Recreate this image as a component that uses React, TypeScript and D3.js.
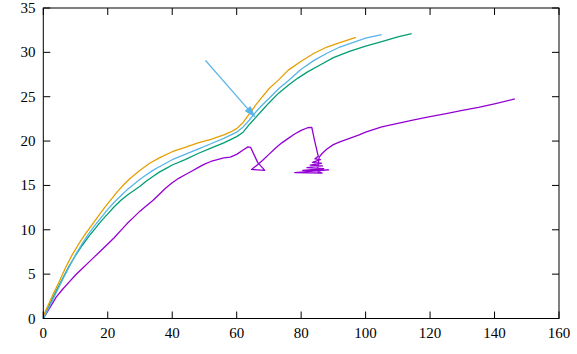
import React, { useEffect, useRef } from "react";
import * as d3 from "d3";

// series: [x, y]
const purple: [number, number][] = [
  [0, 0], [1, 0.6], [2, 1.2], [4, 2.4], [6, 3.3], [8, 4.1], [10, 4.9], [12, 5.6], [14, 6.3],
  [16, 7.0], [18, 7.7], [20, 8.4], [22, 9.1], [24, 9.9], [26, 10.7], [28, 11.4],
  [30, 12.1], [32, 12.7], [34, 13.3], [36, 14.0], [38, 14.7], [40, 15.3], [42, 15.8],
  [44, 16.2], [46, 16.6], [48, 17.0], [50, 17.4], [52, 17.7], [54, 17.9], [56, 18.1],
  [58, 18.2], [60, 18.5], [62, 19.0], [63.5, 19.35], [64.3, 19.3], [66.5, 17.6],
  [68.7, 16.7], [64.6, 16.8], [66, 17.2], [68, 17.8], [70, 18.5], [72, 19.2],
  [74, 19.8], [76, 20.3], [78, 20.8], [80, 21.2], [82, 21.5], [83.3, 21.55],
  [84.2, 20.0], [85.3, 18.3], [84.3, 18.0], [86.0, 17.9], [83.5, 17.6], [86.3, 17.5],
  [82.8, 17.3], [86.6, 17.2], [81.8, 17.0], [87.0, 16.9], [80.5, 16.7], [88.5, 16.75],
  [78.0, 16.45], [86.5, 16.4], [85.0, 16.6], [85.4, 17.6], [85.6, 18.2], [86.5, 18.6],
  [88, 19.1], [90, 19.6], [92, 19.9], [95, 20.3], [98, 20.7], [100, 21.0], [105, 21.6],
  [110, 22.0], [115, 22.4], [120, 22.75], [125, 23.1], [130, 23.45], [135, 23.8],
  [140, 24.2], [146.3, 24.75],
];

const green: [number, number][] = [
  [0, 0], [1, 0.8], [2, 1.6], [4, 3.1], [6, 4.5], [8, 5.9], [10, 7.1], [12, 8.2], [14, 9.2],
  [16, 10.1], [18, 11.0], [20, 11.8], [22, 12.6], [24, 13.3], [26, 13.9], [28, 14.4],
  [30, 14.9], [32, 15.5], [34, 16.0], [36, 16.5], [38, 16.9], [40, 17.3], [44, 17.9],
  [48, 18.6], [52, 19.2], [56, 19.8], [60, 20.5], [62, 21.0], [64, 21.9], [66, 22.7],
  [68, 23.5], [70, 24.3], [73, 25.4], [76, 26.3], [79, 27.1], [82, 27.8], [86, 28.6],
  [90, 29.4], [95, 30.1], [100, 30.7], [105, 31.2], [110, 31.75], [114.3, 32.1],
];

const blue: [number, number][] = [
  [0, 0], [1, 0.7], [2, 1.4], [4, 2.9], [6, 4.4], [8, 5.8], [10, 7.2], [12, 8.4], [14, 9.5],
  [16, 10.5], [18, 11.4], [20, 12.3], [22, 13.1], [24, 13.8], [26, 14.5], [28, 15.1],
  [30, 15.7], [32, 16.2], [34, 16.7], [36, 17.1], [38, 17.5], [40, 17.9], [44, 18.5],
  [48, 19.1], [52, 19.7], [56, 20.3], [60, 21.0], [62, 21.6], [64, 22.4], [66, 23.3],
  [68, 24.1], [70, 24.8], [73, 25.9], [76, 26.8], [80, 28.1], [84, 29.1], [88, 29.9],
  [92, 30.6], [96, 31.1], [100, 31.6], [105, 32.0],
];

const orange: [number, number][] = [
  [0, 0.3], [1, 1.1], [2, 1.9], [3, 2.7], [5, 4.2], [7, 5.8], [9, 7.2], [11, 8.4],
  [13, 9.5], [15, 10.5], [17, 11.5], [19, 12.5], [21, 13.4], [23, 14.3], [25, 15.1],
  [27, 15.8], [30, 16.7], [33, 17.5], [36, 18.1], [40, 18.8], [44, 19.3], [48, 19.8],
  [52, 20.2], [56, 20.7], [58, 21.0], [60, 21.4], [62, 22.1], [64, 23.1], [66, 24.1],
  [68, 25.0], [70, 25.9], [73, 26.9], [76, 28.0], [80, 29.0], [84, 29.9], [88, 30.6],
  [92, 31.1], [97, 31.7],
];

// arrow from / to
const arrowFrom: [number, number] = [50.3, 29.1];
const arrowTo: [number, number] = [65.6, 22.75];

const xTicks = [0, 20, 40, 60, 80, 100, 120, 140, 160];
const yTicks = [0, 5, 10, 15, 20, 25, 30, 35];

const series = [
  { data: purple, color: "#9400d3" },
  { data: green, color: "#009e73" },
  { data: blue, color: "#56b4e9" },
  { data: orange, color: "#e69f00" },
];

export default function App() {
  const svgRef = useRef<SVGSVGElement>(null);

  useEffect(() => {
    const svg = d3.select(svgRef.current);
    svg.selectAll("*").remove();

    const width = 577;
    const height = 354;
    const left = 43.3, right = 559, top = 8, bottom = 318.5;

    const x = d3.scaleLinear().domain([0, 160]).range([left, right]);
    const y = d3.scaleLinear().domain([0, 35]).range([bottom, top]);

    svg.attr("width", width).attr("height", height);
    svg.append("rect").attr("width", width).attr("height", height).attr("fill", "#fff");

    const line = d3
      .line<[number, number]>()
      .x((d) => x(d[0]))
      .y((d) => y(d[1]));

    // curves
    const g = svg.append("g");
    series.forEach((s) => {
      g.append("path")
        .attr("d", line(s.data))
        .attr("fill", "none")
        .attr("stroke", s.color)
        .attr("stroke-width", 1.3)
        .attr("stroke-linejoin", "round");
    });

    // arrow
    const x1 = x(arrowFrom[0]), y1 = y(arrowFrom[1]);
    const x2 = x(arrowTo[0]), y2 = y(arrowTo[1]);
    const ang = Math.atan2(y2 - y1, x2 - x1);
    const hl = 11, hw = 0.3;
    svg.append("line")
      .attr("x1", x1).attr("y1", y1)
      .attr("x2", x2 - Math.cos(ang) * hl * 0.8).attr("y2", y2 - Math.sin(ang) * hl * 0.8)
      .attr("stroke", "#56b4e9").attr("stroke-width", 1.3);
    const head = [
      [x2, y2],
      [x2 - hl * Math.cos(ang - hw), y2 - hl * Math.sin(ang - hw)],
      [x2 - hl * Math.cos(ang + hw), y2 - hl * Math.sin(ang + hw)],
    ];
    svg.append("polygon")
      .attr("points", head.map((p) => p.join(",")).join(" "))
      .attr("fill", "#56b4e9").attr("stroke", "#56b4e9").attr("stroke-width", 1);

    // ticks (inside, mirrored)
    const tl = 7;
    const ticks = svg.append("g").attr("stroke", "#000").attr("stroke-width", 1);
    xTicks.forEach((t) => {
      ticks.append("line").attr("x1", x(t)).attr("x2", x(t)).attr("y1", bottom).attr("y2", bottom - tl);
      ticks.append("line").attr("x1", x(t)).attr("x2", x(t)).attr("y1", top).attr("y2", top + tl);
    });
    yTicks.forEach((t) => {
      ticks.append("line").attr("x1", left).attr("x2", left + tl).attr("y1", y(t)).attr("y2", y(t));
      ticks.append("line").attr("x1", right).attr("x2", right - tl).attr("y1", y(t)).attr("y2", y(t));
    });

    // border
    svg.append("rect")
      .attr("x", left).attr("y", top)
      .attr("width", right - left).attr("height", bottom - top)
      .attr("fill", "none").attr("stroke", "#000").attr("stroke-width", 1);

    // labels
    const font = "Liberation Serif, Times New Roman, DejaVu Serif, serif";
    svg.append("g")
      .selectAll("text")
      .data(xTicks)
      .join("text")
      .attr("x", (d) => x(d))
      .attr("y", 337.5)
      .attr("text-anchor", "middle")
      .attr("font-family", font)
      .attr("font-size", 15)
      .text((d) => d);

    svg.append("g")
      .selectAll("text")
      .data(yTicks)
      .join("text")
      .attr("x", 35.5)
      .attr("y", (d) => y(d) + 5)
      .attr("text-anchor", "end")
      .attr("font-family", font)
      .attr("font-size", 15)
      .text((d) => d);
  }, []);

  return (
    <div style={{ position: "fixed", left: 0, top: 0 }}>
      <svg ref={svgRef} style={{ display: "block" }}></svg>
    </div>
  );
}
